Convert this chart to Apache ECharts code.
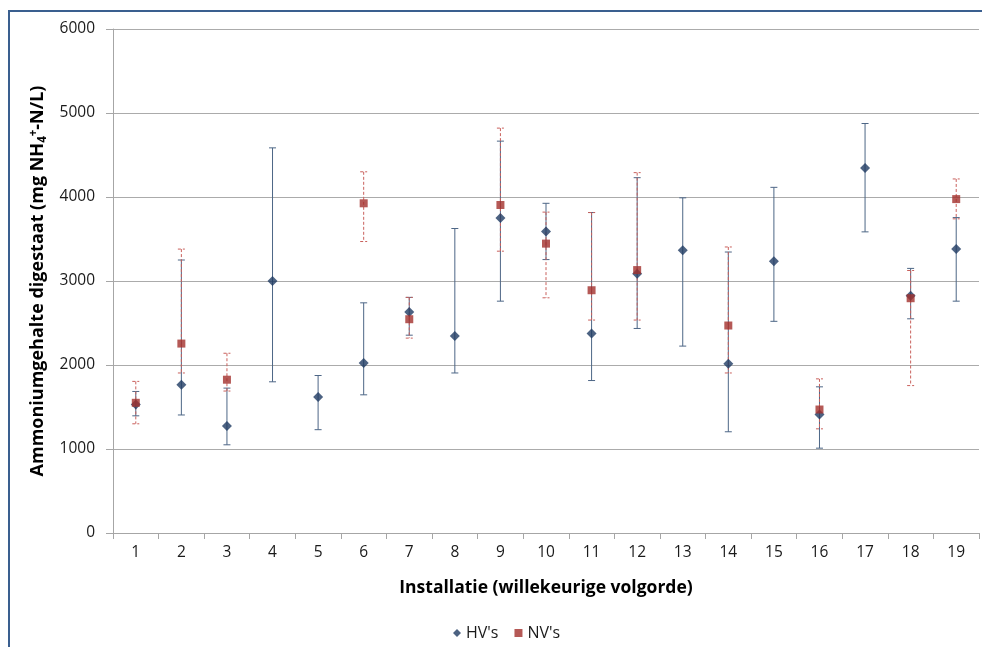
<!DOCTYPE html>
<html>
<head>
<meta charset="utf-8">
<script src="https://cdn.jsdelivr.net/npm/echarts@6/dist/echarts.min.js"></script>
<style>
  html, body { margin: 0; padding: 0; background: #fff; }
  #chart { width: 982px; height: 647px; }
</style>
</head>
<body>
<div id="chart"></div>
<script>
// Installations (random order)
const categories = ['1','2','3','4','5','6','7','8','9','10','11','12','13','14','15','16','17','18','19'];

// HV's: value with min / max range
const hvValues = [1530, 1765, 1275, 3000, 1620, 2025, 2630, 2345, 3750, 3590, 2375, 3085, 3365, 2015, 3235, 1410, 4345, 2825, 3380];
const hvLow    = [1395, 1405, 1050, 1800, 1230, 1645, 2355, 1905, 2760, 3255, 1815, 2435, 2225, 1205, 2520, 1010, 3585, 2550, 2760];
const hvHigh   = [1685, 3250, 1725, 4585, 1875, 2740, 2805, 3625, 4665, 3925, 3815, 4230, 3990, 3345, 4115, 1740, 4875, 3150, 3755];

// NV's: value with min / max range (null = no measurement)
const nvValues = [1550, 2255, 1825, null, null, 3925, 2545, null, 3905, 3445, 2890, 3130, null, 2470, null, 1470, null, 2795, 3975];
const nvLow    = [1300, 1905, 1690, null, null, 3470, 2320, null, 3355, 2800, 2535, 2535, null, 1905, null, 1240, null, 1755, 3740];
const nvHigh   = [1805, 3380, 2140, null, null, 4300, 2805, null, 4820, 3820, 3815, 4290, null, 3405, null, 1835, null, 3125, 4215];

const yTicks = { min: 0, max: 6000, interval: 1000 };

const FONT = '"Open Sans"';
const HV_COLOR = '#1f3b63';
const NV_COLOR = '#a3302c';

function rangeData(low, high) {
  const out = [];
  low.forEach((lo, i) => {
    if (lo != null && high[i] != null) out.push([i, lo, high[i]]);
  });
  return out;
}

function errorBar(color, dash) {
  return function (params, api) {
    const x = api.value(0);
    const pHi = api.coord([x, api.value(2)]);
    const pLo = api.coord([x, api.value(1)]);
    const hw = 3.5;
    const style = { stroke: color, lineWidth: 1, lineDash: dash };
    return {
      type: 'group',
      children: [
        { type: 'line', shape: { x1: pHi[0], y1: pHi[1], x2: pLo[0], y2: pLo[1] }, style: style },
        { type: 'line', shape: { x1: pHi[0] - hw, y1: pHi[1], x2: pHi[0] + hw, y2: pHi[1] }, style: style },
        { type: 'line', shape: { x1: pLo[0] - hw, y1: pLo[1], x2: pLo[0] + hw, y2: pLo[1] }, style: style }
      ]
    };
  };
}

const chart = echarts.init(document.getElementById('chart'), null, { renderer: 'canvas' });

chart.setOption({
  animation: false,
  backgroundColor: '#ffffff',
  textStyle: { fontFamily: FONT },
  graphic: [
    {
      type: 'polyline',
      shape: { points: [[9, 700], [9, 11], [1000, 11]] },
      style: { stroke: '#3a5f8f', lineWidth: 2, fill: null },
      silent: true
    }
  ],
  grid: { left: 113, right: 3, top: 29, bottom: 114, containLabel: false },
  legend: {
    left: 448,
    top: 620,
    itemGap: 16,
    itemWidth: 8,
    itemHeight: 8,
    textStyle: { fontFamily: FONT, fontSize: 16, color: '#1a1a1a' },
    data: [
      { name: "HV's", icon: 'diamond' },
      { name: "NV's", icon: 'rect' }
    ]
  },
  xAxis: {
    type: 'category',
    data: categories,
    boundaryGap: true,
    name: 'Installatie (willekeurige volgorde)',
    nameLocation: 'middle',
    nameGap: 46,
    nameTextStyle: { fontFamily: FONT, fontSize: 17.5, fontWeight: 'bold', color: '#000' },
    axisLine: { lineStyle: { color: '#a6a6a6' } },
    axisTick: { show: true, length: 6, lineStyle: { color: '#a6a6a6' } },
    axisLabel: { fontFamily: FONT, fontSize: 15.5, color: '#1a1a1a', margin: 12 },
    splitLine: { show: false }
  },
  yAxis: {
    type: 'value',
    min: yTicks.min,
    max: yTicks.max,
    interval: yTicks.interval,
    name: '{t|Ammoniumgehalte digestaat (mg NH}{sub|4}{sup|+}{t|-N/L)}',
    nameLocation: 'middle',
    nameGap: 57,
    nameTextStyle: {
      rich: {
        t: { fontFamily: FONT, fontSize: 18, fontWeight: 'bold', color: '#000' },
        sub: { fontFamily: FONT, fontSize: 11.5, fontWeight: 'bold', color: '#000', padding: [10, 0, 0, 0] },
        sup: { fontFamily: FONT, fontSize: 11.5, fontWeight: 'bold', color: '#000', padding: [0, 0, 8, 0] }
      }
    },
    axisLine: { show: true, lineStyle: { color: '#a6a6a6' } },
    axisTick: { show: true, length: 7, lineStyle: { color: '#a6a6a6' } },
    axisLabel: { fontFamily: FONT, fontSize: 15.5, color: '#1a1a1a', margin: 18, formatter: v => String(v) },
    splitLine: { show: true, lineStyle: { color: '#ababab', width: 1 } }
  },
  series: [
    {
      name: 'HV range',
      type: 'custom',
      renderItem: errorBar('#4d6686', null),
      data: rangeData(hvLow, hvHigh),
      z: 2,
      silent: true
    },
    {
      name: 'NV range',
      type: 'custom',
      renderItem: errorBar('#c9605c', [3, 2]),
      data: rangeData(nvLow, nvHigh),
      z: 2,
      silent: true
    },
    {
      name: "HV's",
      type: 'scatter',
      symbol: 'diamond',
      symbolSize: [10, 10],
      itemStyle: { color: HV_COLOR },
      data: hvValues,
      z: 3
    },
    {
      name: "NV's",
      type: 'scatter',
      symbol: 'rect',
      symbolSize: 8,
      itemStyle: { color: NV_COLOR },
      data: nvValues.map(v => (v == null ? '-' : v)),
      z: 4
    }
  ]
});
</script>
</body>
</html>
